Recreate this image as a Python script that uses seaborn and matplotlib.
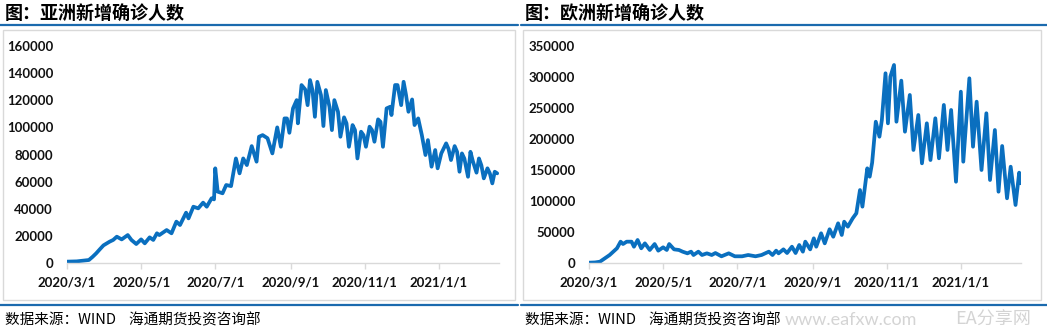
import pandas as pd
import matplotlib
matplotlib.use("Agg")
import matplotlib.pyplot as plt
from matplotlib.patches import Rectangle
from matplotlib.lines import Line2D
import seaborn as sns

# ---- data: daily new confirmed cases ----
asia_dates = [
    "2020-03-01", "2020-03-09", "2020-03-15", "2020-03-19", "2020-03-22", "2020-03-25", "2020-03-28", "2020-03-31",
    "2020-04-05", "2020-04-08", "2020-04-11", "2020-04-15", "2020-04-20", "2020-04-23", "2020-04-27",
    "2020-05-01", "2020-05-04", "2020-05-08", "2020-05-11", "2020-05-14", "2020-05-16", "2020-05-22", "2020-05-26", "2020-05-30",
    "2020-06-02", "2020-06-07", "2020-06-09", "2020-06-13", "2020-06-17", "2020-06-21", "2020-06-24", "2020-06-28", "2020-06-30",
    "2020-07-01", "2020-07-03", "2020-07-07", "2020-07-10", "2020-07-14", "2020-07-18", "2020-07-21", "2020-07-24", "2020-07-27", "2020-07-31",
    "2020-08-04", "2020-08-06", "2020-08-09", "2020-08-13", "2020-08-17", "2020-08-21", "2020-08-24", "2020-08-27", "2020-08-29", "2020-08-31",
    "2020-09-03", "2020-09-06", "2020-09-07", "2020-09-10", "2020-09-13", "2020-09-15", "2020-09-17", "2020-09-19", "2020-09-21", "2020-09-23", "2020-09-26", "2020-09-28", "2020-09-30",
    "2020-10-03", "2020-10-05", "2020-10-07", "2020-10-10", "2020-10-12", "2020-10-15", "2020-10-17", "2020-10-19", "2020-10-22", "2020-10-24", "2020-10-26", "2020-10-29", "2020-10-31",
    "2020-11-02", "2020-11-05", "2020-11-07", "2020-11-09", "2020-11-12", "2020-11-14", "2020-11-16", "2020-11-19", "2020-11-22", "2020-11-23", "2020-11-26", "2020-11-28",
    "2020-12-01", "2020-12-03", "2020-12-05", "2020-12-07", "2020-12-10", "2020-12-12", "2020-12-15", "2020-12-18", "2020-12-21", "2020-12-23", "2020-12-26", "2020-12-29", "2020-12-31",
    "2021-01-03", "2021-01-07", "2021-01-09", "2021-01-11", "2021-01-14", "2021-01-16", "2021-01-18", "2021-01-20", "2021-01-22", "2021-01-25", "2021-01-27", "2021-01-29",
    "2021-02-01", "2021-02-03", "2021-02-05", "2021-02-07", "2021-02-10", "2021-02-12", "2021-02-14", "2021-02-16", "2021-02-18",
]
asia_cases = [
    1000, 1200, 1800, 2200, 4500, 7100, 10100, 13000,
    15700, 17000, 19400, 17400, 20600, 17000, 14000,
    17400, 14500, 18900, 17000, 21900, 20600, 24300, 21900, 30500,
    28000, 37100, 32900, 41500, 40300, 44500, 41500, 47700, 46900,
    69800, 52600, 51400, 57500, 56700, 77100, 66100, 77100, 72200, 86200,
    74700, 93100, 94300, 92000, 80800, 100000, 85700, 106600, 106600, 96000,
    114000, 120100, 103000, 131200, 128000, 116400, 134900, 127500, 107800, 133600, 123800, 101000, 127500,
    115200, 98000, 120100, 111500, 93100, 107400, 103000, 85700, 101700, 98000, 77100, 96800, 94300,
    85700, 100500, 98000, 89400, 105900, 104100, 85700, 114000, 115200, 109100, 131200, 131200,
    116400, 133600, 123800, 111500, 120600, 101700, 106600, 94300, 79600, 90600, 71000, 83300, 69800,
    80800, 88200, 84000, 75900, 86200, 82000, 67300, 80800, 77000, 63600, 82000, 75000,
    66600, 77100, 72000, 62400, 69800, 66000, 58700, 67300, 66100,
]

europe_dates = [
    "2020-03-01", "2020-03-06", "2020-03-10", "2020-03-14", "2020-03-18", "2020-03-21", "2020-03-24", "2020-03-27", "2020-03-29",
    "2020-04-01", "2020-04-05", "2020-04-07", "2020-04-10", "2020-04-13", "2020-04-16", "2020-04-20", "2020-04-24", "2020-04-27",
    "2020-05-01", "2020-05-04", "2020-05-06", "2020-05-10", "2020-05-14", "2020-05-17", "2020-05-21", "2020-05-24", "2020-05-26", "2020-05-30",
    "2020-06-02", "2020-06-06", "2020-06-10", "2020-06-13", "2020-06-18", "2020-06-24", "2020-06-29",
    "2020-07-05", "2020-07-10", "2020-07-16", "2020-07-21", "2020-07-27", "2020-07-30",
    "2020-08-02", "2020-08-04", "2020-08-08", "2020-08-11", "2020-08-15", "2020-08-18", "2020-08-21", "2020-08-24", "2020-08-26", "2020-08-30",
    "2020-09-02", "2020-09-04", "2020-09-08", "2020-09-11", "2020-09-15", "2020-09-18", "2020-09-22", "2020-09-25", "2020-09-27", "2020-09-30",
    "2020-10-04", "2020-10-07", "2020-10-10", "2020-10-12", "2020-10-16", "2020-10-18", "2020-10-20", "2020-10-23", "2020-10-26", "2020-10-28", "2020-10-31",
    "2020-11-02", "2020-11-04", "2020-11-07", "2020-11-09", "2020-11-13", "2020-11-16", "2020-11-20", "2020-11-23", "2020-11-27", "2020-11-30",
    "2020-12-04", "2020-12-07", "2020-12-11", "2020-12-14", "2020-12-18", "2020-12-21", "2020-12-24", "2020-12-28",
    "2021-01-01", "2021-01-03", "2021-01-08", "2021-01-11", "2021-01-14", "2021-01-18", "2021-01-22", "2021-01-25", "2021-01-29",
    "2021-02-01", "2021-02-04", "2021-02-08", "2021-02-11", "2021-02-15", "2021-02-18", "2021-02-19",
]
europe_cases = [
    500, 900, 2100, 7500, 12900, 18300, 23700, 34400, 30600,
    34400, 34400, 26300, 37100, 23700, 31700, 21000, 30600, 19900,
    25300, 21000, 30600, 22000, 21000, 18300, 15600, 18300, 12900, 18300,
    12900, 15600, 12900, 16100, 10800, 15600, 10800,
    10800, 12900, 10800, 12900, 18300, 12900,
    19900, 15600, 22000, 16100, 26300, 16100, 29000, 18300, 34400, 22000,
    39800, 26300, 47900, 31700, 54400, 42400, 64000, 45200, 66600, 58600,
    72100, 80200, 117700, 90900, 152700, 139200, 161800, 227900, 203700, 230700, 306000,
    225300, 300500, 319400, 227900, 294100, 211800, 271000, 182300, 238700, 160800,
    225300, 166100, 233400, 168900, 254900, 182300, 246800, 131100,
    276300, 163400, 297900, 187600, 260200, 150000, 241500, 133900, 214500,
    115000, 188700, 104400, 155300, 93600, 145700, 128600,
]

tick_dates = ["2020-03-01", "2020-05-01", "2020-07-01", "2020-09-01", "2020-11-01", "2021-01-01"]
tick_labels = ["2020/3/1", "2020/5/1", "2020/7/1", "2020/9/1", "2020/11/1", "2021/1/1"]

panels = [
    {"title": "图：亚洲新增确诊人数", "dates": asia_dates, "cases": asia_cases,
     "yticks": [0, 20000, 40000, 60000, 80000, 100000, 120000, 140000, 160000]},
    {"title": "图：欧洲新增确诊人数", "dates": europe_dates, "cases": europe_cases,
     "yticks": [0, 50000, 100000, 150000, 200000, 250000, 300000, 350000]},
]
source_text = "数据来源：WIND    海通期货投资咨询部"

# ---- style ----
sns.set_theme(style="white")
plt.rcParams["font.family"] = ["Lato", "Noto Sans CJK SC", "DejaVu Sans"]
CJK = ["Noto Sans CJK SC", "DejaVu Sans"]
LINE_BLUE = "#0A6FBF"
RULE_BLUE = "#1B6AAE"
GRID_GREY = "#D9D9D9"

W, H = 1047, 332
fig = plt.figure(figsize=(W / 100, H / 100), dpi=100)


def fig_rect(x0, y0, x1, y1):
    """Pixel box (top-left origin) -> figure fraction [left, bottom, width, height]."""
    return [x0 / W, 1 - y1 / H, (x1 - x0) / W, (y1 - y0) / H]


layout = [
    {"panel": (0, 518), "box": (3, 30, 515, 300), "axes": (67, 46, 499, 263), "text_x": 5},
    {"panel": (521, 1047), "box": (523, 30, 1041, 300), "axes": (589, 46, 1021, 263), "text_x": 525},
]

start = pd.Timestamp("2020-03-01")

for spec, geo in zip(panels, layout):
    px0, px1 = geo["panel"]

    # header and footer rules
    for ypix in (25, 305):
        fig.add_artist(Line2D([px0 / W, px1 / W], [1 - ypix / H] * 2, color=RULE_BLUE,
                              lw=1.6, transform=fig.transFigure))
    # chart frame
    bx0, by0, bx1, by1 = geo["box"]
    l, b, w, h = fig_rect(bx0, by0, bx1, by1)
    fig.add_artist(Rectangle((l, b), w, h, transform=fig.transFigure, fill=False,
                             edgecolor=GRID_GREY, lw=1.0))

    fig.text(geo["text_x"] / W, 1 - 13 / H, spec["title"], family=CJK, fontsize=13,
             fontweight="bold", va="center", ha="left", color="black")
    fig.text(geo["text_x"] / W, 1 - 320 / H, source_text, family=CJK, fontsize=10.5,
             va="center", ha="left", color="black")

    ax = fig.add_axes(fig_rect(*geo["axes"]))
    df = pd.DataFrame({"date": pd.to_datetime(spec["dates"]), "cases": spec["cases"]})
    sns.lineplot(data=df, x="date", y="cases", ax=ax, color=LINE_BLUE, lw=2.7,
                 estimator=None, solid_joinstyle="round", solid_capstyle="round")

    ax.set_xlim(start, start + pd.Timedelta(days=355.5))
    ax.set_ylim(spec["yticks"][0], spec["yticks"][-1])
    ax.set_yticks(spec["yticks"])
    ax.set_yticklabels([str(v) for v in spec["yticks"]])
    ax.set_xticks(pd.to_datetime(tick_dates))
    ax.set_xticklabels(tick_labels)
    ax.set_xlabel("")
    ax.set_ylabel("")
    ax.patch.set_alpha(0)

    for side in ("left", "top", "right"):
        ax.spines[side].set_visible(False)
    ax.spines["bottom"].set_color(GRID_GREY)
    ax.spines["bottom"].set_linewidth(1.0)
    ax.tick_params(axis="x", direction="out", length=4, width=1, color=GRID_GREY,
                   pad=6, labelsize=9.5, labelcolor="#111111", bottom=True)
    ax.tick_params(axis="y", length=0, pad=10, labelsize=9.5, labelcolor="#111111")
    for lab in ax.get_xticklabels() + ax.get_yticklabels():
        lab.set_fontweight("bold")

# faint site mark at lower right
fig.text(785 / W, 1 - 320 / H, "www.eafxw.com", fontsize=13, color="#D4D4D4",
         va="center", ha="left", family=["Lato", "DejaVu Sans"])
fig.text(955 / W, 1 - 320 / H, "EA分享网", fontsize=13, color="#D4D4D4",
         va="center", ha="left", family=CJK)

fig.savefig("out.png", dpi=100)
